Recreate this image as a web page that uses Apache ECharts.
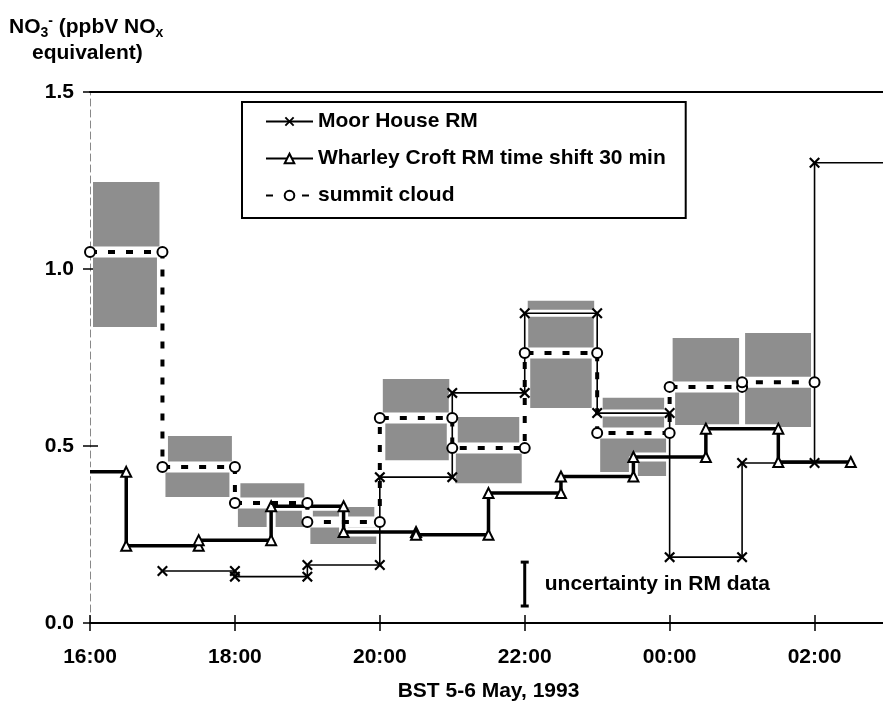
<!DOCTYPE html>
<html>
<head>
<meta charset="utf-8">
<script src="https://cdn.jsdelivr.net/npm/echarts@6/dist/echarts.min.js"></script>
<style>
html,body{margin:0;padding:0;background:#fff;}
#chart{width:883px;height:704px;}
</style>
</head>
<body>
<div id="chart"></div>
<script>
// ---- data (x = hours after 16:00 BST, 5 May 1993) ----
const xTickLabels = ['16:00', '18:00', '20:00', '22:00', '00:00', '02:00'];
const yTickLabels = ['0.0', '0.5', '1.0', '1.5'];

// Moor House RM: interval boundaries and value per interval
const moorBounds = [1, 2, 3, 4, 5, 6, 7, 8, 9, 10, 11];
const moorValues = [0.147, 0.131, 0.164, 0.412, 0.65, 0.875, 0.593, 0.186, 0.452, 1.30];

// Wharley Croft RM (time shift 30 min)
const wharleyBounds = [0, 0.5, 1.5, 2.5, 3.5, 4.5, 5.5, 6.5, 7.5, 8.5, 9.5, 10.5];
const wharleyValues = [0.427, 0.218, 0.234, 0.33, 0.257, 0.249, 0.367, 0.414, 0.469, 0.549, 0.455];

// summit cloud
const cloudBounds = [0, 1, 2, 3, 4, 5, 6, 7, 8, 9, 10];
const cloudValues = [1.048, 0.441, 0.339, 0.285, 0.579, 0.494, 0.763, 0.537, 0.667, 0.680];
const cloudLow  = [0.836, 0.356, 0.271, 0.223, 0.46, 0.395, 0.607, 0.415, 0.559, 0.554];
const cloudHigh = [1.246, 0.528, 0.395, 0.328, 0.689, 0.582, 0.91, 0.636, 0.805, 0.819];

// uncertainty annotation
const uncertaintyTime = 6;
const uncertaintyLow = 0.048;
const uncertaintyHigh = 0.172;
const uncertaintyLabel = 'uncertainty in RM data';

const seriesNames = ['Moor House RM', 'Wharley Croft RM time shift 30 min', 'summit cloud'];

// ---- build ----
function steps(bounds, values) {
  const pts = [];
  for (let i = 0; i < values.length; i++) {
    pts.push([bounds[i], values[i]]);
    pts.push([bounds[i + 1], values[i]]);
  }
  return pts;
}
const moorPts = steps(moorBounds, moorValues);
const wharleyPts = steps(wharleyBounds, wharleyValues);
const cloudPts = steps(cloudBounds, cloudValues);

const boxData = cloudValues.map((v, i) => [cloudBounds[i], cloudBounds[i + 1], cloudLow[i], cloudHigh[i]]);

const FONT = '"Liberation Sans", Arial, Helvetica, sans-serif';
const FS = 21;
const XSYM = 'path://M0,1.4L1.4,0L5,3.6L8.6,0L10,1.4L6.4,5L10,8.6L8.6,10L5,6.4L1.4,10L0,8.6L3.6,5Z';

const chart = echarts.init(document.getElementById('chart'), null, {renderer: 'canvas'});

const option = {
  animation: false,
  backgroundColor: '#fff',
  textStyle: {fontFamily: FONT},
  grid: {left: 90, top: 92, width: 797, height: 531, containLabel: false, outerBoundsMode: 'none'},
  legend: {
    data: seriesNames,
    orient: 'vertical',
    left: 242,
    top: 102,
    itemWidth: 47,
    itemHeight: 12,
    itemGap: 16,
    padding: [9, 20, 12, 23],
    borderColor: '#000',
    borderWidth: 2,
    backgroundColor: '#fff',
    selectedMode: false,
    textStyle: {fontFamily: FONT, fontWeight: 'bold', fontSize: FS, color: '#000'}
  },
  graphic: [
    {
      type: 'text', left: 9, top: 14,
      style: {
        text: '{b|NO}{sub|3}{sup|-}{b| (ppbV NO}{sub|x}',
        rich: {
          b: {fontFamily: FONT, fontWeight: 'bold', fontSize: FS, fill: '#000', lineHeight: 26, verticalAlign: 'middle'},
          sub: {fontFamily: FONT, fontWeight: 'bold', fontSize: 14, fill: '#000', lineHeight: 26, verticalAlign: 'bottom'},
          sup: {fontFamily: FONT, fontWeight: 'bold', fontSize: 14, fill: '#000', lineHeight: 26, verticalAlign: 'top'}
        }
      }
    },
    {
      type: 'text', left: 32, top: 43,
      style: {text: 'equivalent)', fontFamily: FONT, fontWeight: 'bold', fontSize: FS, fill: '#000'}
    }
  ],
  xAxis: [
    {
      type: 'value', min: 0, max: 11, interval: 2, position: 'bottom',
      axisLine: {show: true, onZero: false, lineStyle: {color: '#000', width: 2}},
      axisTick: {show: true, inside: false, length: 8, lineStyle: {color: '#000', width: 1.5}},
      axisLabel: {
        margin: 24, color: '#000', fontFamily: FONT, fontWeight: 'bold', fontSize: FS,
        formatter: v => (v % 2 === 0 && xTickLabels[v / 2] !== undefined) ? xTickLabels[v / 2] : ''
      },
      splitLine: {show: false},
      name: 'BST 5-6 May, 1993', nameLocation: 'middle', nameGap: 58,
      nameTextStyle: {color: '#000', fontFamily: FONT, fontWeight: 'bold', fontSize: FS}
    },
    {
      type: 'value', min: 0, max: 11, interval: 2, position: 'bottom',
      axisLine: {show: false},
      axisTick: {show: true, inside: true, length: 8, lineStyle: {color: '#000', width: 1.5}},
      axisLabel: {show: false}, splitLine: {show: false}
    },
    {
      type: 'value', min: 0, max: 11, interval: 2, position: 'top',
      axisLine: {show: true, onZero: false, lineStyle: {color: '#000', width: 2}},
      axisTick: {show: false}, axisLabel: {show: false}, splitLine: {show: false}
    }
  ],
  yAxis: [
    {
      type: 'value', min: 0, max: 1.5, interval: 0.5, position: 'left',
      axisLine: {show: true, onZero: false, lineStyle: {color: '#888', width: 1, type: [7, 4]}},
      axisTick: {show: true, inside: false, length: 7, lineStyle: {color: '#000', width: 1.5}},
      axisLabel: {
        margin: 16, color: '#000', fontFamily: FONT, fontWeight: 'bold', fontSize: FS,
        formatter: v => yTickLabels[Math.round(v / 0.5)]
      },
      splitLine: {show: false}
    },
    {
      type: 'value', min: 0, max: 1.5, interval: 0.5, position: 'left',
      axisLine: {show: false},
      axisTick: {show: true, inside: true, length: 8, lineStyle: {color: '#000', width: 1.5}},
      axisLabel: {show: false}, splitLine: {show: false}
    }
  ],
  series: [
    {
      name: 'cloudBoxes', type: 'custom', z: 1, silent: true,
      data: boxData,
      encode: {x: [0, 1], y: [2, 3]},
      renderItem: function (params, api) {
        const p0 = api.coord([api.value(0), api.value(3)]);
        const p1 = api.coord([api.value(1), api.value(2)]);
        const inset = 3;
        return {
          type: 'rect',
          shape: {x: p0[0] + inset, y: p0[1], width: p1[0] - p0[0] - 2 * inset, height: p1[1] - p0[1]},
          style: {fill: '#8e8e8e'}
        };
      }
    },
    {
      name: 'cloudHalo', type: 'line', z: 2, silent: true, data: cloudPts,
      symbol: 'none', lineStyle: {color: '#fff', width: 11}
    },
    {
      name: 'moorHalo', type: 'line', z: 2, silent: true, data: moorPts,
      symbol: 'none', lineStyle: {color: '#fff', width: 7}
    },
    {
      name: 'wharleyHalo', type: 'line', z: 2, silent: true, data: wharleyPts,
      symbol: 'none', lineStyle: {color: '#fff', width: 9}
    },
    {
      name: seriesNames[0], type: 'line', z: 4,
      data: moorPts.map((p, i) => i === moorPts.length - 1 ? {value: p, symbol: 'none'} : p),
      symbol: XSYM, symbolSize: 11, showAllSymbol: true,
      itemStyle: {color: '#000', borderWidth: 0},
      lineStyle: {color: '#000', width: 1.6}
    },
    {
      name: seriesNames[1], type: 'line', z: 5,
      data: wharleyPts.map((p, i) => i === 0 ? {value: p, symbol: 'none'} : p),
      symbol: 'emptyTriangle', symbolSize: 10, showAllSymbol: true,
      itemStyle: {color: '#000', borderColor: '#000', borderWidth: 1.8},
      lineStyle: {color: '#000', width: 3.5}
    },
    {
      name: seriesNames[2], type: 'line', z: 6,
      data: cloudPts,
      symbol: 'emptyCircle', symbolSize: 10, showAllSymbol: true,
      itemStyle: {color: '#000', borderColor: '#000', borderWidth: 2},
      lineStyle: {color: '#000', width: 4, type: [7, 11]}
    },
    {
      name: 'uncertainty', type: 'custom', z: 7, silent: true,
      data: [[uncertaintyTime, uncertaintyLow, uncertaintyHigh]],
      encode: {x: 0, y: [1, 2]},
      renderItem: function (params, api) {
        const lo = api.coord([api.value(0), api.value(1)]);
        const hi = api.coord([api.value(0), api.value(2)]);
        const cap = 4;
        const ls = {stroke: '#000', lineWidth: 3};
        return {
          type: 'group',
          children: [
            {type: 'line', shape: {x1: lo[0], y1: lo[1], x2: hi[0], y2: hi[1]}, style: ls},
            {type: 'line', shape: {x1: lo[0] - cap, y1: lo[1], x2: lo[0] + cap, y2: lo[1]}, style: ls},
            {type: 'line', shape: {x1: hi[0] - cap, y1: hi[1], x2: hi[0] + cap, y2: hi[1]}, style: ls},
            {type: 'text', x: lo[0] + 20, y: (lo[1] + hi[1]) / 2,
             style: {text: uncertaintyLabel, fontFamily: FONT, fontWeight: 'bold', fontSize: FS, fill: '#000', verticalAlign: 'middle'}}
          ]
        };
      }
    }
  ]
};
chart.setOption(option);
</script>
</body>
</html>
